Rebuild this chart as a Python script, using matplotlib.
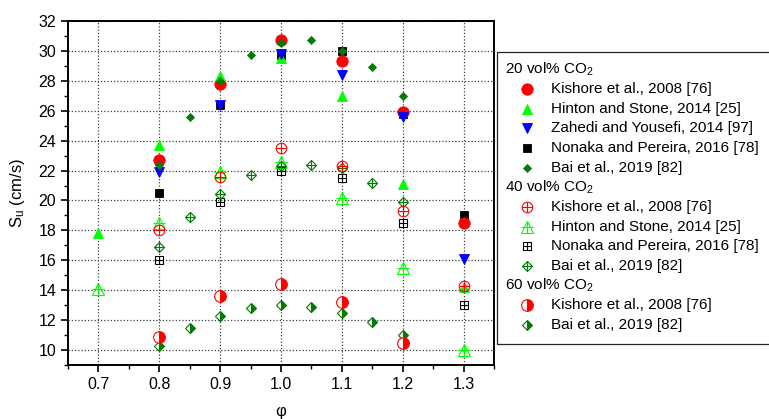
import matplotlib.pyplot as plt
from matplotlib.lines import Line2D
from matplotlib.patches import Rectangle
from matplotlib.ticker import MultipleLocator

plt.rcParams['font.family'] = ['Liberation Sans', 'DejaVu Sans']
plt.rcParams['mathtext.fontset'] = 'custom'
plt.rcParams['mathtext.rm'] = 'Liberation Sans'
plt.rcParams['mathtext.it'] = 'Liberation Sans:italic'

###############################################
### Data: burning velocity S_u (cm/s) vs equivalence ratio

phi_6 = [0.8, 0.9, 1.0, 1.1, 1.2, 1.3]
phi_7 = [0.7, 0.8, 0.9, 1.0, 1.1, 1.2, 1.3]
phi_bai = [0.8, 0.85, 0.9, 0.95, 1.0, 1.05, 1.1, 1.15, 1.2]
phi_k60 = [0.8, 0.9, 1.0, 1.1, 1.2]

# 20 vol% CO2
su_kishore_20 = [22.7, 27.8, 30.7, 29.3, 25.9, 18.5]
su_hinton_20 = [17.8, 23.7, 28.3, 29.5, 27.0, 21.1, 14.2]
su_zahedi_20 = [21.9, 26.4, 29.8, 28.4, 25.6, 16.1]
su_nonaka_20 = [20.5, 26.4, 29.7, 30.0, 25.8, 19.0]
su_bai_20 = [22.4, 25.6, 28.0, 29.7, 30.5, 30.7, 30.0, 28.9, 27.0]

# 40 vol% CO2
su_kishore_40 = [18.0, 21.6, 23.5, 22.3, 19.3, 14.3]
su_hinton_40 = [14.1, 18.5, 21.9, 22.6, 20.15, 15.5, 10.0]
su_nonaka_40 = [16.0, 19.9, 22.0, 21.5, 18.5, 13.0]
su_bai_40 = [16.9, 18.9, 20.4, 21.7, 22.3, 22.4, 22.15, 21.2, 19.9]

# 60 vol% CO2
su_kishore_60 = [10.9, 13.6, 14.4, 13.2, 10.5]
su_bai_60 = [10.3, 11.5, 12.3, 12.8, 13.0, 12.9, 12.5, 11.9, 11.0]

###############################################
### Marker styles

RED = '#ff0000'
LIME = '#00ff00'
BLUE = '#0000ff'
DGREEN = '#007c00'

st_k20 = dict(marker='o', ms=8.2, mfc=RED, mec=RED, mew=0.6)
st_h20 = dict(marker='^', ms=7.6, mfc=LIME, mec=LIME, mew=0.6)
st_z20 = dict(marker='v', ms=7.6, mfc=BLUE, mec=BLUE, mew=0.6)
st_n20 = dict(marker='s', ms=6.0, mfc='black', mec='black', mew=0.6)
st_b20 = dict(marker='D', ms=4.2, mfc=DGREEN, mec=DGREEN, mew=0.6)

st_k40 = dict(marker='o', ms=7.6, mfc='none', mec=RED, mew=0.8)
st_h40 = dict(marker='^', ms=8.4, mfc='none', mec=LIME, mew=0.8)
st_n40 = dict(marker='s', ms=5.4, mfc='none', mec='black', mew=0.8)
st_b40 = dict(marker='D', ms=5.6, mfc='none', mec=DGREEN, mew=0.8)

st_k60 = dict(marker='o', ms=8.4, mfc=RED, mec=RED, mew=0.8,
              fillstyle='right', markerfacecoloralt='white')
st_b60 = dict(marker='D', ms=5.2, mfc=DGREEN, mec=DGREEN, mew=0.8,
              fillstyle='right', markerfacecoloralt='white')

# open symbols carry a cross inside
cross_k40 = dict(marker='+', ms=7.6, mec=RED, mew=0.8)
cross_h40 = dict(marker='+', ms=8.4, mec=LIME, mew=0.8)
cross_n40 = dict(marker='+', ms=5.4, mec='black', mew=0.8)
cross_b40 = dict(marker='+', ms=7.6, mec=DGREEN, mew=0.8)

###############################################
### Figure

fig = plt.figure(figsize=(7.69, 4.19), dpi=100)
ax = fig.add_axes([68/769, 1 - 365/419, (494 - 68)/769, (365 - 21)/419])

def pts(x, y, st, cross=None):
    ax.plot(x, y, ls='none', **st)
    if cross:
        ax.plot(x, y, ls='none', **cross)

pts(phi_6, su_nonaka_20, st_n20)
pts(phi_6, su_kishore_20, st_k20)
pts(phi_7, su_hinton_20, st_h20)
pts(phi_6, su_zahedi_20, st_z20)
pts(phi_bai, su_bai_20, st_b20)

pts(phi_6, su_nonaka_40, st_n40, cross_n40)
pts(phi_7, su_hinton_40, st_h40, cross_h40)
pts(phi_bai, su_bai_40, st_b40, cross_b40)
pts(phi_6, su_kishore_40, st_k40, cross_k40)

pts(phi_bai, su_bai_60, st_b60)
pts(phi_k60, su_kishore_60, st_k60)

ax.set_xlim(0.65, 1.35)
ax.set_ylim(9, 32)
ax.xaxis.set_major_locator(MultipleLocator(0.1))
ax.xaxis.set_minor_locator(MultipleLocator(0.05))
ax.yaxis.set_major_locator(MultipleLocator(2))
ax.yaxis.set_minor_locator(MultipleLocator(1))
ax.set_xticks([0.7, 0.8, 0.9, 1.0, 1.1, 1.2, 1.3])
ax.set_xticklabels(['0.7', '0.8', '0.9', '1.0', '1.1', '1.2', '1.3'])
ax.set_yticks(range(10, 33, 2))

ax.grid(True, which='major', color='0.25', ls=(0, (1, 1.6)), lw=0.9)
ax.set_axisbelow(True)
for s in ax.spines.values():
    s.set_linewidth(1.4)
ax.tick_params(which='major', direction='out', length=5, width=1.2,
               labelsize=11.5, top=False, right=False)
ax.tick_params(which='minor', direction='out', length=3, width=1.0,
               top=False, right=False)

ax.set_xlabel('φ', fontsize=12, labelpad=9)
ax.set_ylabel(r'S$_\mathrm{u}$ (cm/s)', fontsize=12, labelpad=8)

###############################################
### Legend box drawn in figure pixels

def fx(px):
    return px / 769

def fy(py):
    return 1 - py / 419

fig.add_artist(Rectangle((fx(497), fy(344)), fx(290), fy(52) - fy(344),
                         transform=fig.transFigure, fill=False,
                         edgecolor='0.15', lw=0.9, clip_on=False))

rows = [
    ('20 vol% CO$_2$', None, None),
    ('Kishore et al., 2008 [76]', st_k20, None),
    ('Hinton and Stone, 2014 [25]', st_h20, None),
    ('Zahedi and Yousefi, 2014 [97]', st_z20, None),
    ('Nonaka and Pereira, 2016 [78]', st_n20, None),
    ('Bai et al., 2019 [82]', st_b20, None),
    ('40 vol% CO$_2$', None, None),
    ('Kishore et al., 2008 [76]', st_k40, cross_k40),
    ('Hinton and Stone, 2014 [25]', st_h40, cross_h40),
    ('Nonaka and Pereira, 2016 [78]', st_n40, cross_n40),
    ('Bai et al., 2019 [82]', st_b40, cross_b40),
    ('60 vol% CO$_2$', None, None),
    ('Kishore et al., 2008 [76]', st_k60, None),
    ('Bai et al., 2019 [82]', st_b60, None),
]

y0, dy = 69.5, 19.65
for i, (label, st, cross) in enumerate(rows):
    yp = y0 + i * dy
    if st is None:
        fig.text(fx(505), fy(yp), label, fontsize=11, va='center', ha='left')
        continue
    fig.add_artist(Line2D([fx(527)], [fy(yp)], transform=fig.transFigure,
                          ls='none', **st))
    if cross:
        fig.add_artist(Line2D([fx(527)], [fy(yp)], transform=fig.transFigure,
                              ls='none', **cross))
    fig.text(fx(551), fy(yp), label, fontsize=11, va='center', ha='left')

fig.savefig('out.png', dpi=100)
